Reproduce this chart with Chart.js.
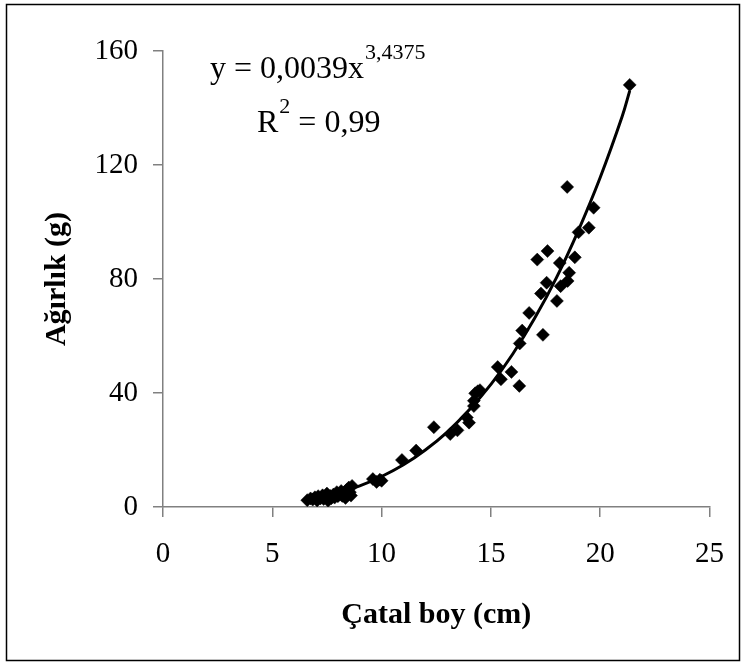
<!DOCTYPE html>
<html>
<head>
<meta charset="utf-8">
<script src="https://cdn.jsdelivr.net/npm/chart.js@4/dist/chart.umd.min.js"></script>
<style>
  body { margin: 0; background: #fff; }
  canvas { display: block; }
</style>
</head>
<body>
<canvas id="chart" width="744" height="665"></canvas>
<script>
// fork length (cm) vs weight (g)
const lengthCm = [
  6.6, 6.75, 6.85, 6.95, 7.05, 7.1, 7.2, 7.3, 7.35, 7.45, 7.5, 7.55, 7.65, 7.7, 7.8,
  7.85, 7.95, 8.0, 8.1, 8.15, 8.2, 8.3, 8.35, 8.4, 8.45, 8.5, 8.55, 8.65, 8.6,
  9.6, 9.77, 9.92, 10.0, 10.93, 11.58, 12.39, 13.14, 13.47, 13.9, 14.0, 14.22, 14.22,
  14.28, 14.4, 14.5, 15.31, 15.46, 15.94, 16.3, 16.32, 16.43, 16.75, 17.12, 17.29,
  17.38, 17.55, 17.59, 18.02, 18.15, 18.19, 18.49, 18.51, 18.58, 18.84, 19.01, 19.48,
  19.7, 21.35
];
const weightG = [
  2.4, 3.0, 2.6, 3.4, 2.3, 3.8, 3.0, 4.1, 2.8, 3.5, 4.7, 2.2, 3.9, 3.1, 4.4,
  3.3, 5.2, 3.8, 4.6, 5.6, 3.9, 5.0, 3.2, 6.0, 4.4, 6.8, 5.2, 7.4, 4.0,
  9.8, 8.8, 9.6, 9.2, 16.5, 19.8, 28.0, 25.6, 26.9, 31.4, 29.6, 35.4, 37.3,
  39.9, 40.6, 41.0, 49.1, 44.8, 47.4, 42.5, 57.4, 61.9, 68.1, 86.8, 74.9,
  60.4, 78.7, 89.8, 72.3, 85.6, 77.5, 112.3, 79.3, 82.2, 87.6, 96.4, 98.0,
  105.0, 148.1
];
// power trendline, values
const trendX = [6.6, 7, 8, 9, 10, 11, 12, 13, 14, 15, 16, 17, 18, 19, 20, 21, 21.35];
const trendY = [2.6, 3.1, 5.0, 7.4, 10.7, 14.8, 20.0, 26.3, 34.0, 43.0, 53.7, 66.2, 80.5, 97.0, 115.6, 136.9, 146.0];

const xTicks = [0, 5, 10, 15, 20, 25];
const yTicks = [0, 40, 80, 120, 160];

const SERIF = "'Liberation Serif', 'Times New Roman', serif";
const GRAY = '#808080';

const points = lengthCm.map((x, i) => ({ x, y: weightG[i] }));
const trend = trendX.map((x, i) => ({ x, y: trendY[i] }));

const frame = {
  id: 'frame',
  beforeDraw(chart) {
    const c = chart.ctx;
    c.save();
    c.fillStyle = '#fff';
    c.fillRect(0, 0, chart.width, chart.height);
    c.strokeStyle = '#000';
    c.lineWidth = 1.5;
    c.strokeRect(6.5, 4.5, 733, 656);
    c.restore();
  },
  afterDraw(chart) {
    const c = chart.ctx;
    c.save();
    c.fillStyle = '#000';
    c.textBaseline = 'alphabetic';
    c.textAlign = 'left';
    c.font = `32px ${SERIF}`;
    const eq = 'y = 0,0039x';
    c.fillText(eq, 210, 78);
    const w = c.measureText(eq).width;
    c.font = `22px ${SERIF}`;
    c.fillText('3,4375', 210 + w + 1, 59);
    c.font = `32px ${SERIF}`;
    c.fillText('R', 257, 132);
    const rw = c.measureText('R').width;
    c.font = `22px ${SERIF}`;
    c.fillText('2', 257 + rw + 1, 113);
    const sw = c.measureText('2').width;
    c.font = `32px ${SERIF}`;
    c.fillText(' = 0,99', 257 + rw + sw + 1, 132);
    c.restore();
  }
};

new Chart(document.getElementById('chart'), {
  type: 'scatter',
  data: {
    datasets: [
      {
        label: 'Trend',
        data: trend,
        showLine: true,
        borderColor: '#000',
        borderWidth: 3,
        pointRadius: 0,
        tension: 0.4,
        order: 2
      },
      {
        label: 'Ağırlık',
        data: points,
        pointStyle: 'rectRot',
        pointRadius: 6.5,
        pointBorderWidth: 0.5,
        backgroundColor: '#000',
        borderColor: '#000',
        order: 1
      }
    ]
  },
  options: {
    responsive: false,
    animation: false,
    layout: { padding: { left: 0, top: 51, right: 29, bottom: 0 } },
    plugins: { legend: { display: false }, tooltip: { enabled: false } },
    scales: {
      x: {
        type: 'linear',
        min: 0,
        max: 25,
        afterBuildTicks: (s) => { s.ticks = xTicks.map(v => ({ value: v })); },
        afterFit: (s) => { s.height = 158; },
        ticks: { color: '#000', font: { family: SERIF, size: 29 }, padding: 20, maxRotation: 0 },
        grid: { drawOnChartArea: false, drawTicks: true, tickLength: 10, color: GRAY, lineWidth: 1.5 },
        border: { color: GRAY, width: 1.5 },
        title: {
          display: true,
          text: 'Çatal boy (cm)',
          color: '#000',
          font: { family: SERIF, size: 30, weight: 'bold' },
          padding: { top: 0, bottom: 32 }
        }
      },
      y: {
        type: 'linear',
        min: 0,
        max: 160,
        afterBuildTicks: (s) => { s.ticks = yTicks.map(v => ({ value: v })); },
        afterFit: (s) => { s.width = 163; },
        ticks: { color: '#000', font: { family: SERIF, size: 29 }, padding: 15 },
        grid: { drawOnChartArea: false, drawTicks: true, tickLength: 10, color: GRAY, lineWidth: 1.5 },
        border: { color: GRAY, width: 1.5 },
        title: {
          display: true,
          text: 'Ağırlık (g)',
          color: '#000',
          font: { family: SERIF, size: 30, weight: 'bold' },
          padding: { top: 39, bottom: 0 }
        }
      }
    }
  },
  plugins: [frame]
});
</script>
</body>
</html>
